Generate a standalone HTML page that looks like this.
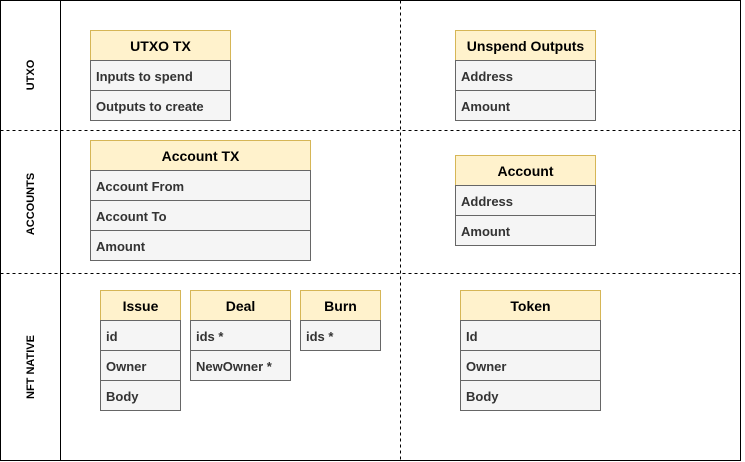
<!DOCTYPE html>
<html><head><meta charset="utf-8"><style>
html,body{margin:0;padding:0;background:#fff;}
svg{display:block;}
text{font-family:"Liberation Sans",Arial,sans-serif;font-weight:bold;}
.h{fill:#fff2cc;stroke:#d6b656;stroke-width:1;}
.r{fill:#f5f5f5;stroke:#666;stroke-width:1;}
.ht{font-size:14px;fill:#000;text-anchor:middle;}
.rt{font-size:13px;fill:#333;}
.lab{font-size:11px;fill:#000;text-anchor:middle;}
</style></head><body>
<svg width="745" height="462" viewBox="0 0 745 462" xmlns="http://www.w3.org/2000/svg">
<rect x="0.5" y="0.5" width="740" height="460" fill="#fff" stroke="#000"/>
<line x1="60.5" y1="0.5" x2="60.5" y2="460.5" stroke="#000"/>
<line x1="0.5" y1="130.5" x2="740.5" y2="130.5" stroke="#000" stroke-dasharray="3,3"/>
<line x1="0.5" y1="273.5" x2="740.5" y2="273.5" stroke="#000" stroke-dasharray="3,3"/>
<line x1="400.5" y1="0.5" x2="400.5" y2="460.5" stroke="#000" stroke-dasharray="3,3"/>
<text class="lab" transform="translate(34,75) rotate(-90)">UTXO</text>
<text class="lab" transform="translate(34,204) rotate(-90)">ACCOUNTS</text>
<text class="lab" transform="translate(34,367) rotate(-90)">NFT NATIVE</text>

<!-- UTXO TX -->
<rect class="h" x="90.5" y="30.5" width="140" height="30"/>
<text class="ht" x="160.5" y="51">UTXO TX</text>
<rect class="r" x="90.5" y="60.5" width="140" height="30"/><text class="rt" x="96" y="81">Inputs to spend</text>
<rect class="r" x="90.5" y="90.5" width="140" height="30"/><text class="rt" x="96" y="111">Outputs to create</text>

<!-- Unspend Outputs -->
<rect class="h" x="455.5" y="30.5" width="140" height="30"/>
<text class="ht" x="525.5" y="51">Unspend Outputs</text>
<rect class="r" x="455.5" y="60.5" width="140" height="30"/><text class="rt" x="461" y="81">Address</text>
<rect class="r" x="455.5" y="90.5" width="140" height="30"/><text class="rt" x="461" y="111">Amount</text>

<!-- Account TX -->
<rect class="h" x="90.5" y="140.5" width="220" height="30"/>
<text class="ht" x="200.5" y="161">Account TX</text>
<rect class="r" x="90.5" y="170.5" width="220" height="30"/><text class="rt" x="96" y="191">Account From</text>
<rect class="r" x="90.5" y="200.5" width="220" height="30"/><text class="rt" x="96" y="221">Account To</text>
<rect class="r" x="90.5" y="230.5" width="220" height="30"/><text class="rt" x="96" y="251">Amount</text>

<!-- Account -->
<rect class="h" x="455.5" y="155.5" width="140" height="30"/>
<text class="ht" x="525.5" y="176">Account</text>
<rect class="r" x="455.5" y="185.5" width="140" height="30"/><text class="rt" x="461" y="206">Address</text>
<rect class="r" x="455.5" y="215.5" width="140" height="30"/><text class="rt" x="461" y="236">Amount</text>

<!-- Issue -->
<rect class="h" x="100.5" y="290.5" width="80" height="30"/>
<text class="ht" x="140.5" y="311">Issue</text>
<rect class="r" x="100.5" y="320.5" width="80" height="30"/><text class="rt" x="106" y="341">id</text>
<rect class="r" x="100.5" y="350.5" width="80" height="30"/><text class="rt" x="106" y="371">Owner</text>
<rect class="r" x="100.5" y="380.5" width="80" height="30"/><text class="rt" x="106" y="401">Body</text>

<!-- Deal -->
<rect class="h" x="190.5" y="290.5" width="100" height="30"/>
<text class="ht" x="240.5" y="311">Deal</text>
<rect class="r" x="190.5" y="320.5" width="100" height="30"/><text class="rt" x="196" y="341">ids *</text>
<rect class="r" x="190.5" y="350.5" width="100" height="30"/><text class="rt" x="196" y="371">NewOwner *</text>

<!-- Burn -->
<rect class="h" x="300.5" y="290.5" width="80" height="30"/>
<text class="ht" x="340.5" y="311">Burn</text>
<rect class="r" x="300.5" y="320.5" width="80" height="30"/><text class="rt" x="306" y="341">ids *</text>

<!-- Token -->
<rect class="h" x="460.5" y="290.5" width="140" height="30"/>
<text class="ht" x="530.5" y="311">Token</text>
<rect class="r" x="460.5" y="320.5" width="140" height="30"/><text class="rt" x="466" y="341">Id</text>
<rect class="r" x="460.5" y="350.5" width="140" height="30"/><text class="rt" x="466" y="371">Owner</text>
<rect class="r" x="460.5" y="380.5" width="140" height="30"/><text class="rt" x="466" y="401">Body</text>
</svg>
</body></html>
